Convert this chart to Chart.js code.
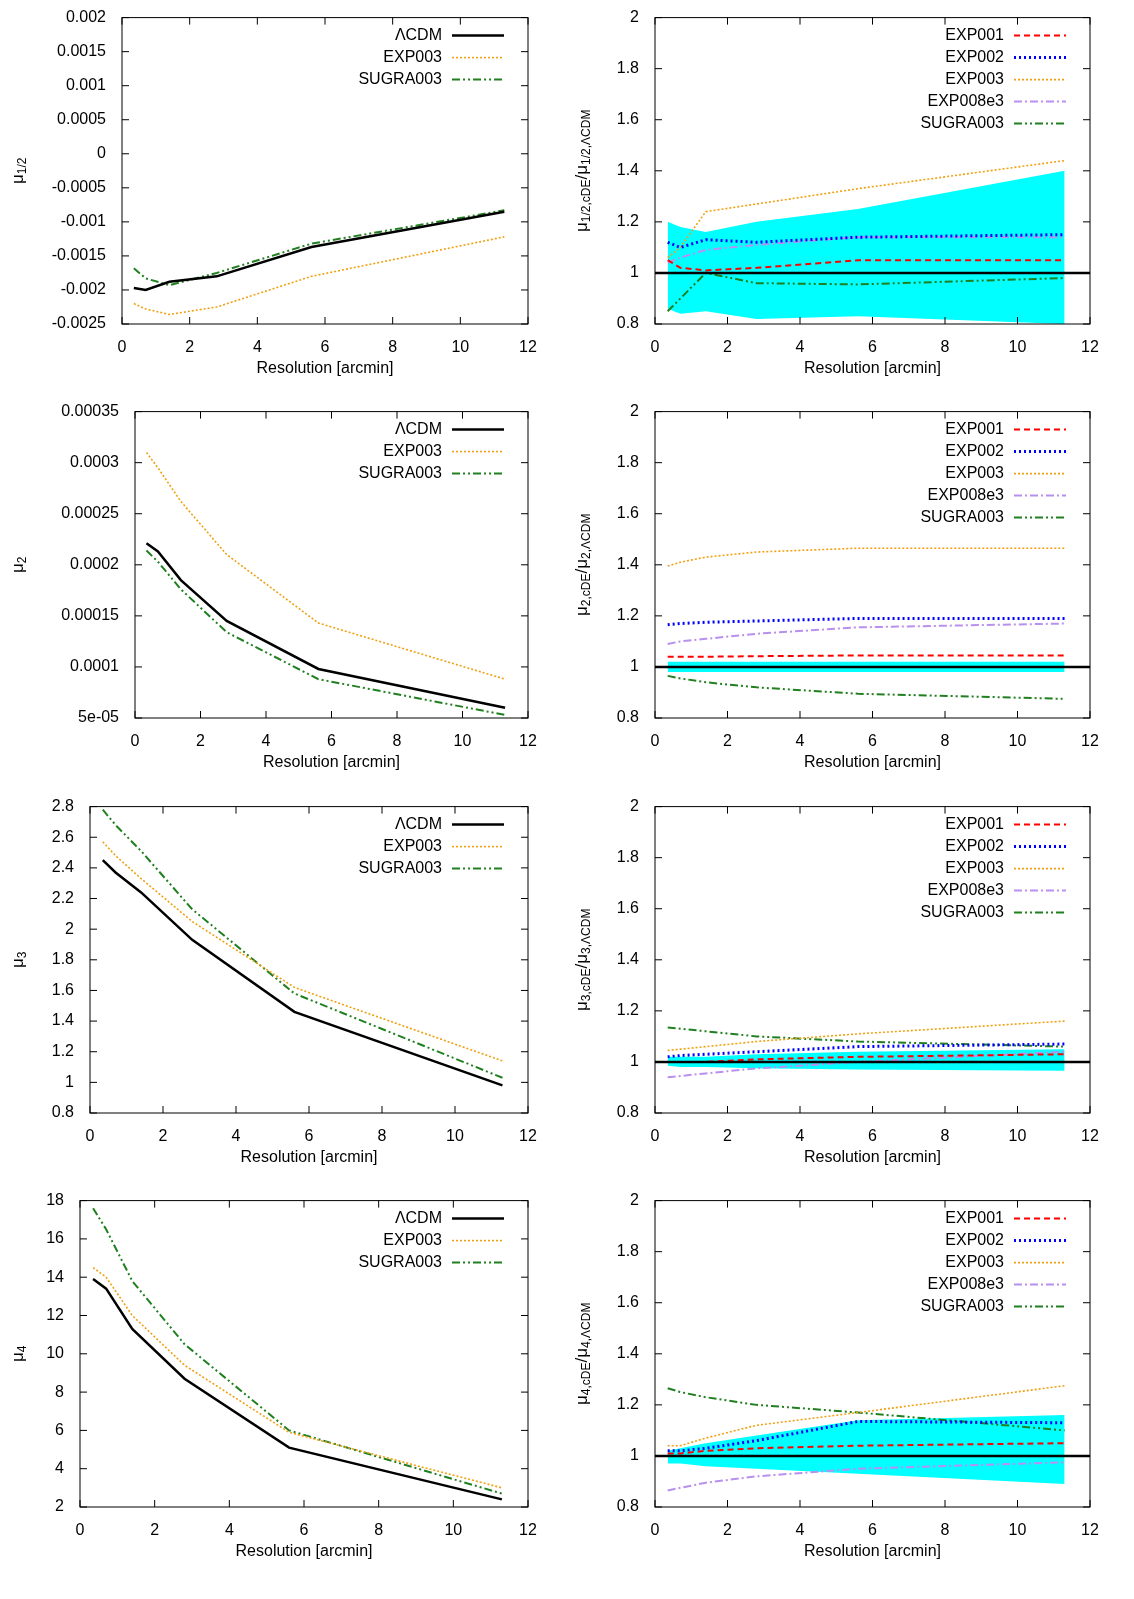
<!DOCTYPE html>
<html>
<head>
<meta charset="utf-8">
<script src="https://cdn.jsdelivr.net/npm/chart.js@4/dist/chart.umd.min.js"></script>
<style>
  body { margin: 0; background: #fff; }
  canvas { position: absolute; }
</style>
</head>
<body>
<script>
// Resolutions [arcmin]
const resolution = [0.35, 0.7, 1.4, 2.8, 5.6, 11.3];
const xTicks = [0, 2, 4, 6, 8, 10, 12];

// --- row 1: mu_1/2 ---
const m12_lcdm   = [-0.00197, -0.00200, -0.00188, -0.00180, -0.00137, -0.00085];
const m12_exp003 = [-0.00220, -0.00228, -0.00236, -0.00225, -0.00180, -0.00122];
const m12_sugra  = [-0.00168, -0.00183, -0.00193, -0.00175, -0.00132, -0.00083];
const r12_bandLo = [0.86, 0.84, 0.85, 0.82, 0.83, 0.80];
const r12_bandHi = [1.20, 1.18, 1.16, 1.20, 1.25, 1.40];
const r12_exp001 = [1.05, 1.02, 1.01, 1.02, 1.05, 1.05];
const r12_exp002 = [1.12, 1.10, 1.13, 1.12, 1.14, 1.15];
const r12_exp003 = [1.06, 1.10, 1.24, 1.27, 1.33, 1.44];
const r12_exp008 = [1.04, 1.06, 1.09, 1.11, 1.14, 1.14];
const r12_sugra  = [0.85, 0.90, 1.00, 0.96, 0.955, 0.98];

// --- row 2: mu_2 ---
const m2_lcdm   = [0.000221, 0.000213, 0.000185, 0.000145, 0.000098, 0.000060];
const m2_exp003 = [0.000310, 0.000295, 0.000262, 0.000210, 0.000143, 0.000088];
const m2_sugra  = [0.000214, 0.000203, 0.000176, 0.000134, 0.000088, 0.000053];
const r2_bandLo = [0.98, 0.98, 0.98, 0.98, 0.98, 0.98];
const r2_bandHi = [1.02, 1.02, 1.02, 1.02, 1.02, 1.02];
const r2_exp001 = [1.04, 1.04, 1.04, 1.042, 1.045, 1.045];
const r2_exp002 = [1.165, 1.17, 1.175, 1.18, 1.19, 1.19];
const r2_exp003 = [1.395, 1.41, 1.43, 1.45, 1.465, 1.465];
const r2_exp008 = [1.09, 1.10, 1.11, 1.13, 1.155, 1.17];
const r2_sugra  = [0.965, 0.955, 0.94, 0.92, 0.895, 0.875];

// --- row 3: mu_3 ---
const m3_lcdm   = [2.45, 2.37, 2.24, 1.93, 1.46, 0.98];
const m3_exp003 = [2.57, 2.48, 2.33, 2.05, 1.62, 1.14];
const m3_sugra  = [2.78, 2.68, 2.51, 2.13, 1.58, 1.03];
const r3_bandLo = [0.985, 0.98, 0.98, 0.975, 0.97, 0.965];
const r3_bandHi = [1.02, 1.02, 1.02, 1.03, 1.04, 1.05];
const r3_exp001 = [1.00, 1.00, 1.00, 1.01, 1.02, 1.03];
const r3_exp002 = [1.02, 1.025, 1.03, 1.04, 1.06, 1.07];
const r3_exp003 = [1.045, 1.05, 1.06, 1.08, 1.11, 1.16];
const r3_exp008 = [0.94, 0.945, 0.955, 0.975, 1.00, 1.04];
const r3_sugra  = [1.135, 1.13, 1.12, 1.10, 1.08, 1.06];

// --- row 4: mu_4 ---
const m4_lcdm   = [13.9, 13.4, 11.3, 8.7, 5.1, 2.4];
const m4_exp003 = [14.5, 14.0, 12.0, 9.4, 5.9, 3.0];
const m4_sugra  = [17.6, 16.5, 13.8, 10.5, 6.0, 2.7];
const r4_bandLo = [0.97, 0.97, 0.96, 0.95, 0.93, 0.89];
const r4_bandHi = [1.02, 1.03, 1.05, 1.08, 1.14, 1.16];
const r4_exp001 = [1.01, 1.01, 1.02, 1.03, 1.04, 1.05];
const r4_exp002 = [1.02, 1.02, 1.03, 1.06, 1.135, 1.13];
const r4_exp003 = [1.04, 1.04, 1.07, 1.12, 1.17, 1.275];
const r4_exp008 = [0.865, 0.875, 0.895, 0.92, 0.95, 0.975];
const r4_sugra  = [1.265, 1.25, 1.23, 1.20, 1.17, 1.10];

const refX = [0, 12];
const refY = [1, 1];

const FONT = '"Liberation Sans", Arial, sans-serif';
const STY = {
  lcdm:   { label: 'ΛCDM',     borderColor: '#000000', borderWidth: 2.5, borderDash: [] },
  exp001: { label: 'EXP001',   borderColor: '#ff0000', borderWidth: 2,   borderDash: [6, 4] },
  exp002: { label: 'EXP002',   borderColor: '#0000ff', borderWidth: 3,   borderDash: [2, 3] },
  exp003: { label: 'EXP003',   borderColor: '#f0a010', borderWidth: 1.6, borderDash: [2, 2] },
  exp008: { label: 'EXP008e3', borderColor: '#b890f0', borderWidth: 2,   borderDash: [8, 3, 2, 3] },
  sugra:  { label: 'SUGRA003', borderColor: '#208020', borderWidth: 2,   borderDash: [8, 3, 2, 3, 2, 3] }
};

function pts(xs, ys) { return xs.map((x, i) => ({ x: x, y: ys[i] })); }
function line(key, ys, xs, order) {
  const s = STY[key];
  return { label: s.label, data: pts(xs || resolution, ys), showLine: true, pointRadius: 0,
    borderColor: s.borderColor, borderWidth: s.borderWidth, borderDash: s.borderDash,
    fill: false, tension: 0, legend: true, order: order || 0 };
}
function band(lo, hi) {
  return [
    { label: 'lo', data: pts(resolution, lo), showLine: true, pointRadius: 0, borderWidth: 0, fill: false, tension: 0, order: 20 },
    { label: 'hi', data: pts(resolution, hi), showLine: true, pointRadius: 0, borderWidth: 0,
      fill: '-1', backgroundColor: '#00ffff', tension: 0, order: 19 }
  ];
}

function fmt(v) {
  if (Math.abs(v) < 1e-12) return '0';
  if (Math.abs(v) < 1e-4) {
    const e = Math.floor(Math.log10(Math.abs(v)));
    const m = parseFloat((v / Math.pow(10, e)).toFixed(3));
    return m + 'e-' + String(-e).padStart(2, '0');
  }
  return String(parseFloat(v.toPrecision(6)));
}

// Box with inward ticks on all four sides, plus the key
const framePlugin = {
  id: 'frame',
  afterDatasetsDraw(chart) {
    const { ctx, chartArea: a, scales } = chart;
    ctx.save();
    ctx.strokeStyle = '#000'; ctx.lineWidth = 1; ctx.setLineDash([]);
    ctx.strokeRect(a.left, a.top, a.right - a.left, a.bottom - a.top);
    const L = 7;
    ctx.beginPath();
    scales.x.ticks.forEach(t => {
      const px = scales.x.getPixelForValue(t.value);
      ctx.moveTo(px, a.bottom); ctx.lineTo(px, a.bottom - L);
      ctx.moveTo(px, a.top); ctx.lineTo(px, a.top + L);
    });
    scales.y.ticks.forEach(t => {
      const py = scales.y.getPixelForValue(t.value);
      ctx.moveTo(a.left, py); ctx.lineTo(a.left + L, py);
      ctx.moveTo(a.right, py); ctx.lineTo(a.right - L, py);
    });
    ctx.stroke();

    const items = chart.data.datasets.filter(d => d.legend && !d.noKey);
    ctx.font = '16px ' + FONT;
    ctx.textAlign = 'right'; ctx.textBaseline = 'middle'; ctx.fillStyle = '#000';
    items.forEach((d, i) => {
      const y = a.top + 18 + 22 * i;
      ctx.fillText(d.label, a.right - 86, y);
      ctx.beginPath();
      ctx.strokeStyle = d.borderColor; ctx.lineWidth = d.borderWidth; ctx.setLineDash(d.borderDash);
      ctx.moveTo(a.right - 76, y); ctx.lineTo(a.right - 24, y);
      ctx.stroke();
    });
    ctx.restore();
  }
};

// y title with subscripts: parts = [[text, isSub], ...]
const yTitlePlugin = {
  id: 'ytitle',
  afterDraw(chart, args, opts) {
    const { ctx, chartArea: a } = chart;
    const parts = opts.parts;
    ctx.save();
    const big = '17px ' + FONT, small = '12px ' + FONT;
    let w = 0;
    parts.forEach(p => { ctx.font = p[1] ? small : big; w += ctx.measureText(p[0]).width; });
    ctx.translate(opts.x, (a.top + a.bottom) / 2);
    ctx.rotate(-Math.PI / 2);
    ctx.fillStyle = '#000'; ctx.textBaseline = 'middle'; ctx.textAlign = 'left';
    let x = -w / 2;
    parts.forEach(p => {
      ctx.font = p[1] ? small : big;
      ctx.fillText(p[0], x, p[1] ? 5 : 0);
      x += ctx.measureText(p[0]).width;
    });
    ctx.restore();
  }
};

function makeChart(left, top, plotLeft, padRight, datasets, yMin, yMax, yStep, titleParts, titleX) {
  const c = document.createElement('canvas');
  c.width = 567; c.height = 395;
  c.style.left = left + 'px'; c.style.top = top + 'px';
  document.body.appendChild(c);
  new Chart(c, {
    type: 'scatter',
    data: { datasets: datasets },
    plugins: [framePlugin, yTitlePlugin],
    options: {
      responsive: false, animation: false,
      layout: { padding: { top: 14, right: padRight, left: 0, bottom: 0 } },
      plugins: { legend: { display: false }, tooltip: { enabled: false },
        ytitle: { parts: titleParts, x: titleX } },
      scales: {
        x: {
          type: 'linear', min: 0, max: 12,
          afterBuildTicks: s => { s.ticks = xTicks.map(v => ({ value: v })); },
          afterFit: s => { s.height = 71; },
          grid: { display: false }, border: { display: false },
          ticks: { color: '#000', font: { size: 16, family: FONT }, padding: 6, maxRotation: 0 },
          title: { display: true, text: 'Resolution [arcmin]', color: '#000',
            font: { size: 16, family: FONT }, padding: { top: 4, bottom: 17 } }
        },
        y: {
          type: 'linear', min: yMin, max: yMax,
          afterBuildTicks: s => {
            const t = [];
            for (let v = yMin; v <= yMax + yStep * 1e-6; v += yStep) t.push({ value: parseFloat(v.toPrecision(8)) });
            s.ticks = t;
          },
          afterFit: s => { s.width = plotLeft; },
          grid: { display: false }, border: { display: false },
          ticks: { color: '#000', font: { size: 16, family: FONT }, padding: 8, callback: v => fmt(v) }
        }
      }
    }
  });
}

function ratioSets(lo, hi, e1, e2, e3, e8, su) {
  const ref = line('lcdm', refY, refX, 0); ref.noKey = true;
  return [...band(lo, hi), ref,
    line('exp001', e1, null, 1), line('exp002', e2, null, 2), line('exp003', e3, null, 3),
    line('exp008', e8, null, 4), line('sugra', su, null, 5)];
}
function ratioTitle(n) {
  return [['μ', 0], [n + ',cDE', 1], ['/μ', 0], [n + ',ΛCDM', 1]];
}

const rowTop = [0, 394, 789, 1183];

makeChart(0, rowTop[0], 122, 39,
  [line('lcdm', m12_lcdm), line('exp003', m12_exp003), line('sugra', m12_sugra)],
  -0.0025, 0.002, 0.0005, [['μ', 0], ['1/2', 1]], 18);
makeChart(567, rowTop[0], 88, 44,
  ratioSets(r12_bandLo, r12_bandHi, r12_exp001, r12_exp002, r12_exp003, r12_exp008, r12_sugra),
  0.8, 2, 0.2, ratioTitle('1/2'), 15);

makeChart(0, rowTop[1], 135, 39,
  [line('lcdm', m2_lcdm), line('exp003', m2_exp003), line('sugra', m2_sugra)],
  0.00005, 0.00035, 0.00005, [['μ', 0], ['2', 1]], 18);
makeChart(567, rowTop[1], 88, 44,
  ratioSets(r2_bandLo, r2_bandHi, r2_exp001, r2_exp002, r2_exp003, r2_exp008, r2_sugra),
  0.8, 2, 0.2, ratioTitle('2'), 15);

makeChart(0, rowTop[2], 90, 39,
  [line('lcdm', m3_lcdm), line('exp003', m3_exp003), line('sugra', m3_sugra)],
  0.8, 2.8, 0.2, [['μ', 0], ['3', 1]], 18);
makeChart(567, rowTop[2], 88, 44,
  ratioSets(r3_bandLo, r3_bandHi, r3_exp001, r3_exp002, r3_exp003, r3_exp008, r3_sugra),
  0.8, 2, 0.2, ratioTitle('3'), 15);

makeChart(0, rowTop[3], 80, 39,
  [line('lcdm', m4_lcdm), line('exp003', m4_exp003), line('sugra', m4_sugra)],
  2, 18, 2, [['μ', 0], ['4', 1]], 18);
makeChart(567, rowTop[3], 88, 44,
  ratioSets(r4_bandLo, r4_bandHi, r4_exp001, r4_exp002, r4_exp003, r4_exp008, r4_sugra),
  0.8, 2, 0.2, ratioTitle('4'), 15);
</script>
</body>
</html>
